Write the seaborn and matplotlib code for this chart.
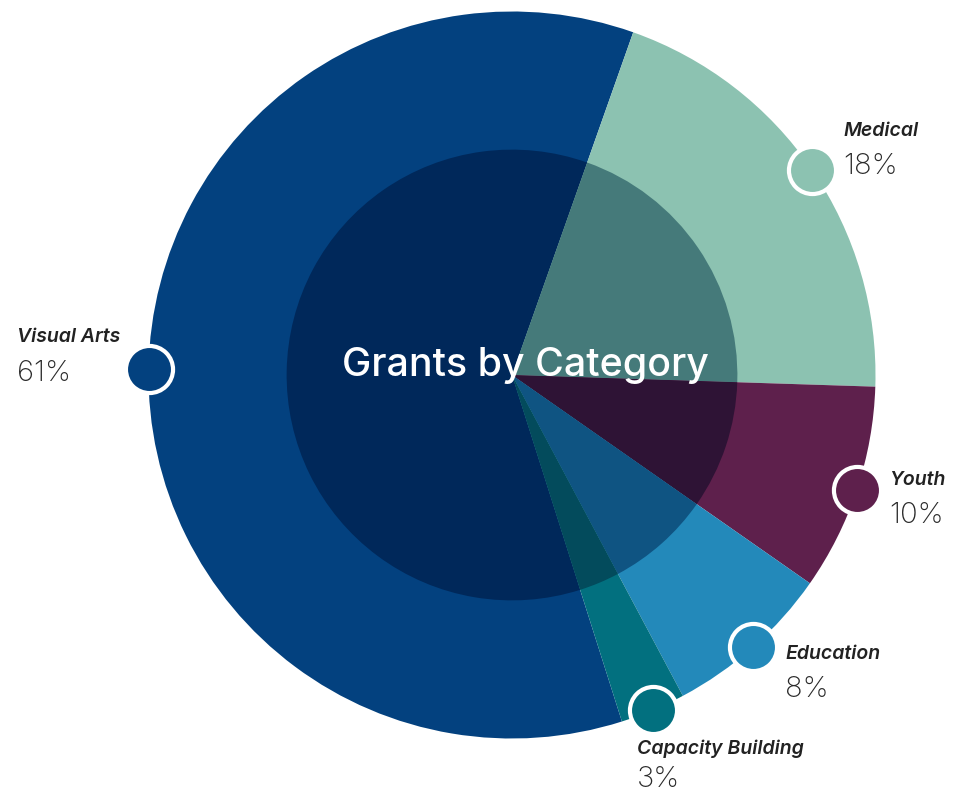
import matplotlib
matplotlib.use("Agg")
import matplotlib.pyplot as plt
import seaborn as sns
import numpy as np

categories = ["Visual Arts", "Medical", "Youth", "Education", "Capacity Building"]
shares = [60.3, 20.1, 9.2, 7.5, 2.9]
pct_labels = ["61%", "18%", "10%", "8%", "3%"]

outer_colors = ["#03417f", "#8cc2b1", "#5e204c", "#2389ba", "#02707f"]
inner_colors = ["#00285a", "#457a7a", "#2e1335", "#0f5482", "#034b5c"]

# label offsets from each marker, in pixels (name, percent)
label_offsets = {
    "Visual Arts": ((-132, 32), (-132, -4)),
    "Medical": ((31, 39), (31, 3)),
    "Youth": ((32, 10), (32, -26)),
    "Education": ((32, -7), (32, -42)),
    "Capacity Building": ((-16, -39), (-16, -69)),
}

sns.set_theme(style="white")
plt.rcParams["font.family"] = ["Inter", "DejaVu Sans"]

fig = plt.figure(figsize=(9.76, 7.94), dpi=100)
ax = fig.add_axes([0, 0, 1, 1])

start = -72.4
ax.pie(shares, colors=outer_colors, startangle=start, counterclock=False,
       radius=1.0, wedgeprops=dict(linewidth=0))
ax.pie(shares, colors=inner_colors, startangle=start, counterclock=False,
       radius=0.62, wedgeprops=dict(linewidth=0))

# markers at the middle of each wedge on the outer rim
total = sum(shares)
ang = start
for cat, val, col, pct in zip(categories, shares, outer_colors, pct_labels):
    mid = np.deg2rad(ang - val / total * 360 / 2)
    ang -= val / total * 360
    mx, my = np.cos(mid), np.sin(mid)
    ax.scatter([mx], [my], s=1150, color=col, edgecolor="white",
               linewidth=3, zorder=5)
    (nx, ny), (px, py) = label_offsets[cat]
    ax.annotate(cat, (mx, my), xytext=(nx * 0.72, ny * 0.72),
                textcoords="offset points", ha="left", va="center",
                fontsize=14, fontstyle="italic", fontweight="semibold",
                color="#222222")
    ax.annotate(pct, (mx, my), xytext=(px * 0.72, py * 0.72),
                textcoords="offset points", ha="left", va="center",
                fontsize=21, fontweight="light", color="#2a2a2a")

ax.text(0.037, 0.027, "Grants by Category", ha="center", va="center",
        fontsize=28.3, fontweight="medium", color="white")

# 1 data unit = 363.5 px, pie centre at (512, 375) px
r_px = 363.5
ax.set_xlim(-512 / r_px, (976 - 512) / r_px)
ax.set_ylim(-(794 - 375) / r_px, 375 / r_px)
ax.set_aspect("auto")
ax.axis("off")

fig.savefig("out.png", dpi=100, facecolor="white")
